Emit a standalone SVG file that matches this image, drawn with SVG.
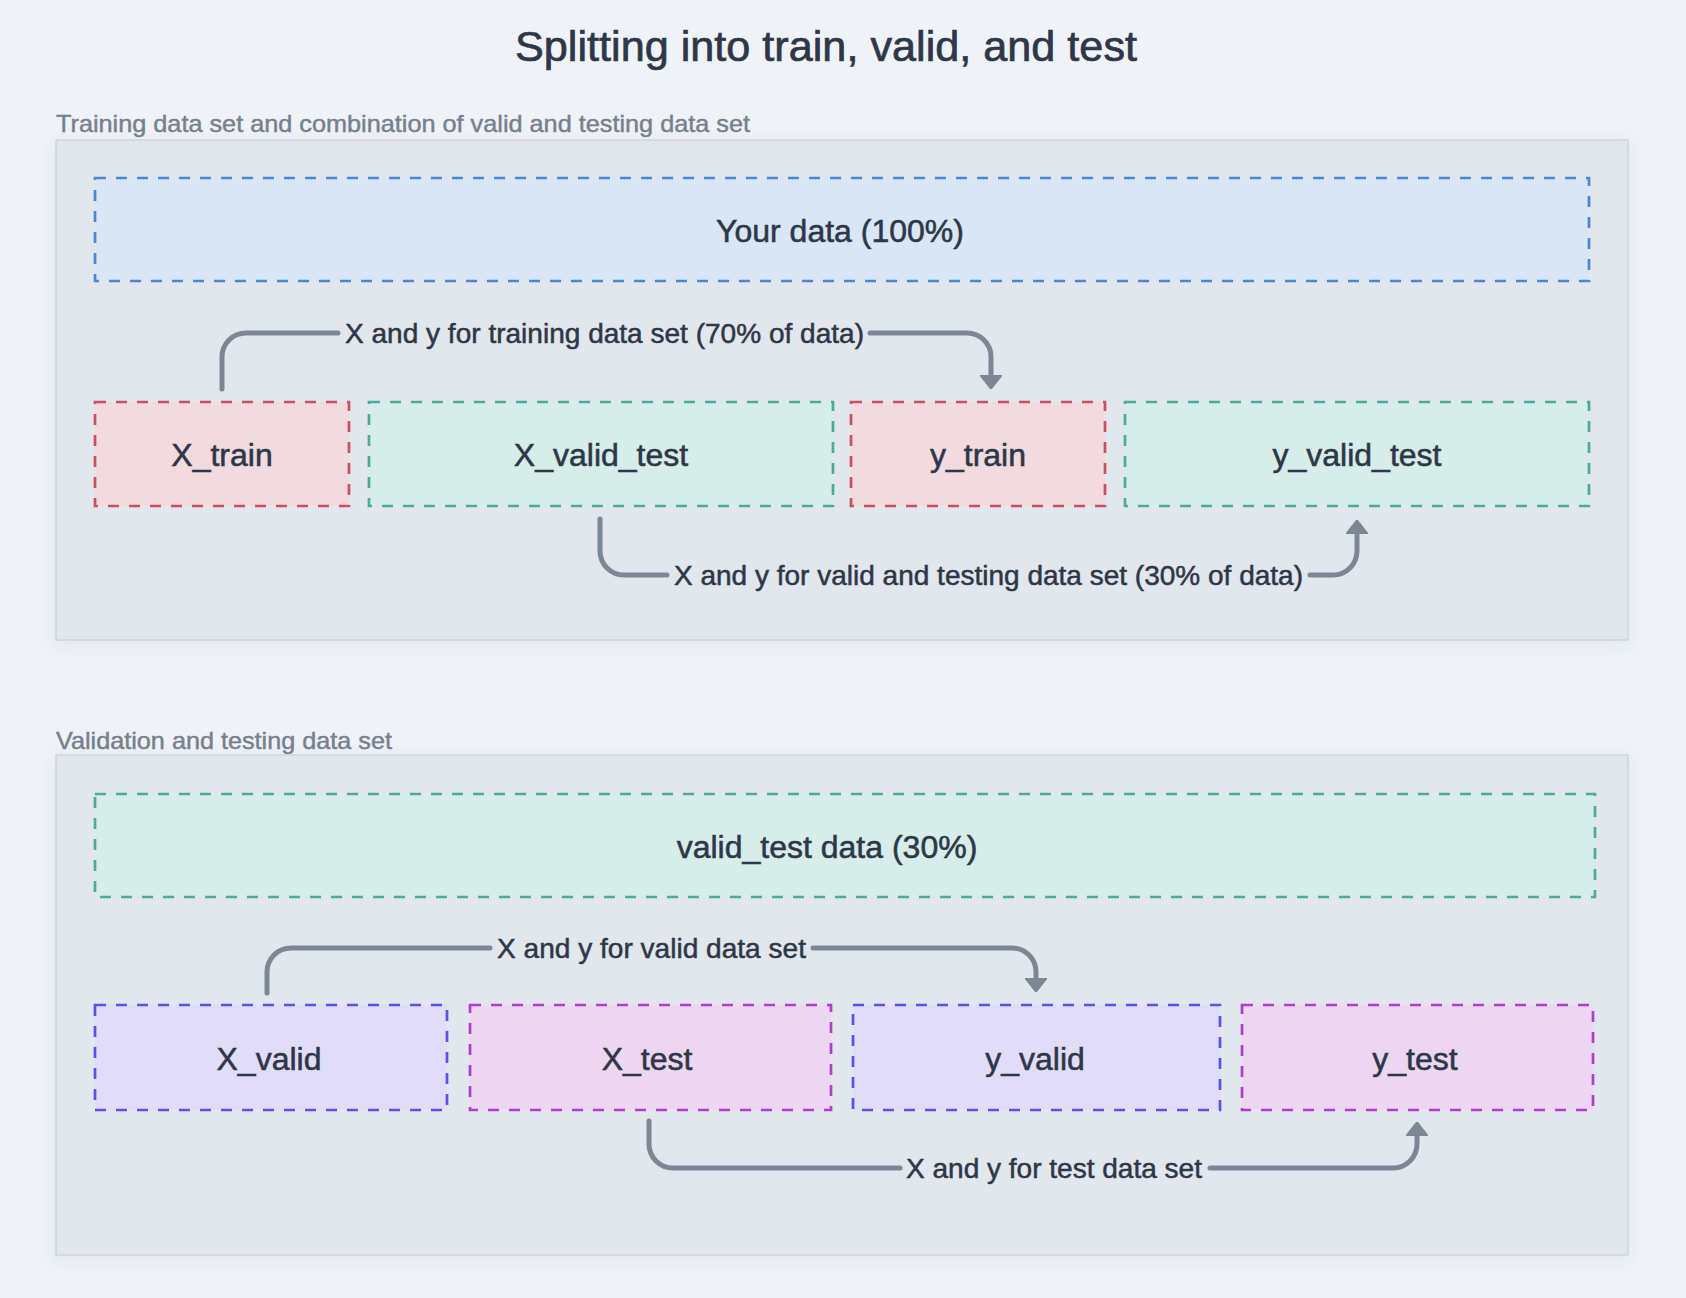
<svg xmlns="http://www.w3.org/2000/svg" width="1686" height="1298" viewBox="0 0 1686 1298">
  <defs>
    <style>
      .title { font-family: "Liberation Sans", Arial, sans-serif; font-size: 42px; fill: #2d3748; stroke: #2d3748; stroke-width: 0.7px; }
      .section { font-family: "Liberation Sans", Arial, sans-serif; font-size: 24px; fill: #76808f; stroke: #76808f; stroke-width: 0.45px; }
      .panel { fill: #e2e6ed; stroke: #cbd0d8; stroke-width: 1.2; }
      .node { stroke-width: 2.7; stroke-dasharray: 11 10; }
      .ntext { font-family: "Liberation Sans", Arial, sans-serif; font-size: 32px; fill: #2d3748; stroke: #2d3748; stroke-width: 0.55px; text-anchor: middle; }
      .ltext { font-family: "Liberation Sans", Arial, sans-serif; font-size: 27.5px; fill: #2d3748; stroke: #2d3748; stroke-width: 0.5px; }
      .blue { fill: #d8e6f6; stroke: #4a86d8; }
      .red { fill: #f2dade; stroke: #c9515f; }
      .teal { fill: #d7ede9; stroke: #4aab98; }
      .purple { fill: #e1ddf9; stroke: #5b50ee; }
      .magenta { fill: #edd6f2; stroke: #b03dd0; }
      .conn { fill: none; stroke: #7d8794; stroke-width: 5; stroke-linecap: round; stroke-linejoin: round; }
    </style>
    <marker id="arrow" viewBox="0 0 14 22" refX="1" refY="11" markerWidth="14" markerHeight="22" markerUnits="userSpaceOnUse" orient="auto">
      <path d="M0,0 L14,11 L0,22 Z" fill="#7d8794" stroke="#7d8794" stroke-width="1.5" stroke-linejoin="round"/>
    </marker>
    <filter id="shadow" x="-5%" y="-5%" width="110%" height="115%">
      <feDropShadow dx="0" dy="4" stdDeviation="8" flood-color="#4a5568" flood-opacity="0.08"/>
    </filter>
  </defs>

  <rect x="0" y="0" width="1686" height="1298" fill="#eff3f7"/>

  <text class="title" x="515" y="61" textLength="622" lengthAdjust="spacingAndGlyphs">Splitting into train, valid, and test</text>

  <g id="panel-train">
    <text class="section" x="56" y="132" textLength="694" lengthAdjust="spacingAndGlyphs">Training data set and combination of valid and testing data set</text>
    <rect class="panel" x="56" y="140" width="1572" height="500" filter="url(#shadow)"/>
  </g>

  <g id="panel-valid">
    <text class="section" x="56" y="748.5" textLength="336" lengthAdjust="spacingAndGlyphs">Validation and testing data set</text>
    <rect class="panel" x="56" y="755" width="1572" height="500" filter="url(#shadow)"/>
  </g>

  <g id="your-data">
    <rect class="node blue" x="95" y="178" width="1494" height="103"/>
    <text class="ntext" x="840" y="242">Your data (100%)</text>
  </g>
  <g id="x-train">
    <rect class="node red" x="95" y="402" width="254" height="104"/>
    <text class="ntext" x="222" y="466">X_train</text>
  </g>
  <g id="x-valid-test">
    <rect class="node teal" x="369" y="402" width="464" height="104"/>
    <text class="ntext" x="601" y="466">X_valid_test</text>
  </g>
  <g id="y-train">
    <rect class="node red" x="851" y="402" width="254" height="104"/>
    <text class="ntext" x="978" y="466">y_train</text>
  </g>
  <g id="y-valid-test">
    <rect class="node teal" x="1125" y="402" width="464" height="104"/>
    <text class="ntext" x="1357" y="466">y_valid_test</text>
  </g>

  <g id="valid-test-data">
    <rect class="node teal" x="95" y="794" width="1500" height="103"/>
    <text class="ntext" x="827" y="858">valid_test data (30%)</text>
  </g>
  <g id="x-valid">
    <rect class="node purple" x="95" y="1005" width="352" height="105"/>
    <text class="ntext" x="269" y="1070">X_valid</text>
  </g>
  <g id="x-test">
    <rect class="node magenta" x="470" y="1005" width="361" height="105"/>
    <text class="ntext" x="647" y="1070">X_test</text>
  </g>
  <g id="y-valid">
    <rect class="node purple" x="853" y="1005" width="367" height="105"/>
    <text class="ntext" x="1035" y="1070">y_valid</text>
  </g>
  <g id="y-test">
    <rect class="node magenta" x="1242" y="1005" width="351" height="105"/>
    <text class="ntext" x="1415" y="1070">y_test</text>
  </g>

  <g id="connectors">
    <path class="conn" d="M222,389 V357 A24,24 0 0 1 246,333 H338"/>
    <path class="conn" d="M870,333 H967 A24,24 0 0 1 991,357 V376" marker-end="url(#arrow)"/>
    <text class="ltext" x="345" y="342.5" textLength="519" lengthAdjust="spacingAndGlyphs">X and y for training data set (70% of data)</text>

    <path class="conn" d="M600,519 V551 A24,24 0 0 0 624,575 H667"/>
    <path class="conn" d="M1310,575 H1333 A24,24 0 0 0 1357,551 V533" marker-end="url(#arrow)"/>
    <text class="ltext" x="674" y="584.5" textLength="629" lengthAdjust="spacingAndGlyphs">X and y for valid and testing data set (30% of data)</text>

    <path class="conn" d="M267,993 V972 A24,24 0 0 1 291,948 H490"/>
    <path class="conn" d="M813,948 H1012 A24,24 0 0 1 1036,972 V979" marker-end="url(#arrow)"/>
    <text class="ltext" x="497" y="957.5" textLength="309" lengthAdjust="spacingAndGlyphs">X and y for valid data set</text>

    <path class="conn" d="M649,1121 V1144 A24,24 0 0 0 673,1168 H900"/>
    <path class="conn" d="M1210,1168 H1393 A24,24 0 0 0 1417,1144 V1135" marker-end="url(#arrow)"/>
    <text class="ltext" x="906" y="1177.5" textLength="296" lengthAdjust="spacingAndGlyphs">X and y for test data set</text>
  </g>
</svg>
